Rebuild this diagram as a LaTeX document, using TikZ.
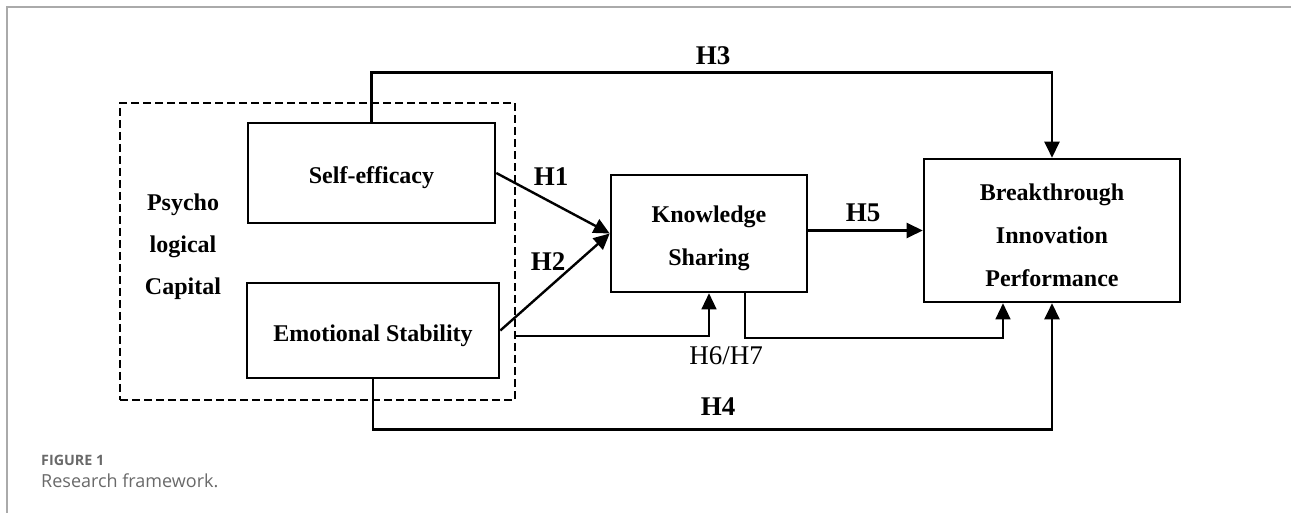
\documentclass[tikz,border=0pt]{standalone}
\usepackage{fontspec}
\setmainfont{Liberation Serif}
\newfontfamily\capfont{Open Sans}
\usepackage{tikz}
\usetikzlibrary{arrows.meta,positioning}
\definecolor{capgray}{RGB}{105,105,105}
\definecolor{framegray}{RGB}{170,170,170}
\newcommand{\boxstrut}{\rule{0pt}{26.5pt}}

\begin{document}
\begin{tikzpicture}[x=1pt,y=-1pt,
  main node/.style={draw,rectangle,line width=2.6pt,inner sep=0pt,align=center,
    font=\fontsize{24}{43}\selectfont\bfseries},
  group box/.style={draw,rectangle,line width=2pt,dash pattern=on 8pt off 4pt,inner sep=0pt},
  hyp/.style={inner sep=0pt,font=\fontsize{27}{30}\selectfont\bfseries},
  path arrow/.style={line width=2.4pt,-{Triangle[length=16pt,width=15pt]}},
  thin arrow/.style={line width=1.3pt,-{Triangle[length=16pt,width=15pt]}},
  cap text/.style={anchor=west,inner sep=0pt,text=capgray}]

\useasboundingbox (0,0) rectangle (1291,513);
\draw[framegray,line width=1.5pt] (7,513) -- (7,7) -- (1291,7);

% constructs
\node[group box,minimum width=395pt,minimum height=297pt] (psycap) at (317.5,251.5) {};
\node[inner sep=0pt,align=center,font=\fontsize{24}{42}\selectfont\bfseries] (pclabel) at (183,246.5) {Psycho\\logical\\Capital};
\node[main node,minimum width=247pt,minimum height=100pt] (self) at (371.5,173) {\boxstrut Self-efficacy};
\node[main node,minimum width=252pt,minimum height=95pt] (emo) at (373,330.5) {\boxstrut Emotional Stability};
\node[main node,minimum width=196pt,minimum height=117pt] (share) at (709,233.5) {\boxstrut Knowledge\\Sharing};
\node[main node,minimum width=256pt,minimum height=143pt] (bip) at (1052,230.5) {\boxstrut Breakthrough\\Innovation\\Performance};

% hypotheses
\draw[path arrow] (self.east) -- (share.west);
\draw[path arrow] (emo.east) -- (share.west);
\draw[path arrow] (share.east |- bip.west) -- (bip.west);
\draw[path arrow] (self.north) -- ++(0,-49) -| (bip.north);
\draw[path arrow] (emo.south) -- ++(0,50) -| (bip.south);

\coordinate (moda) at (515,336);
\coordinate (modb) at (1003,338);
\draw[thin arrow] (moda) -| (share.south);
\draw[thin arrow] ([xshift=36pt]share.south) |- (modb) -- (bip.south -| modb);

\node[hyp] (h1) at (551,177) {H1};
\node[hyp] (h2) at (548,262) {H2};
\node[hyp] (h3) at (713,56) {H3};
\node[hyp] (h4) at (718,407) {H4};
\node[hyp] (h5) at (863,213) {H5};
\node[inner sep=0pt,font=\fontsize{27}{30}\selectfont] (h67) at (726,356) {H6/H7};

% caption
\node[cap text,font=\capfont\bfseries\fontsize{14.3}{16}\selectfont] (figno) at (41,460) {FIGURE 1};
\node[cap text,font=\capfont\fontsize{18}{20}\selectfont] (figcap) at (41,481) {Research framework.};

\end{tikzpicture}
\end{document}
